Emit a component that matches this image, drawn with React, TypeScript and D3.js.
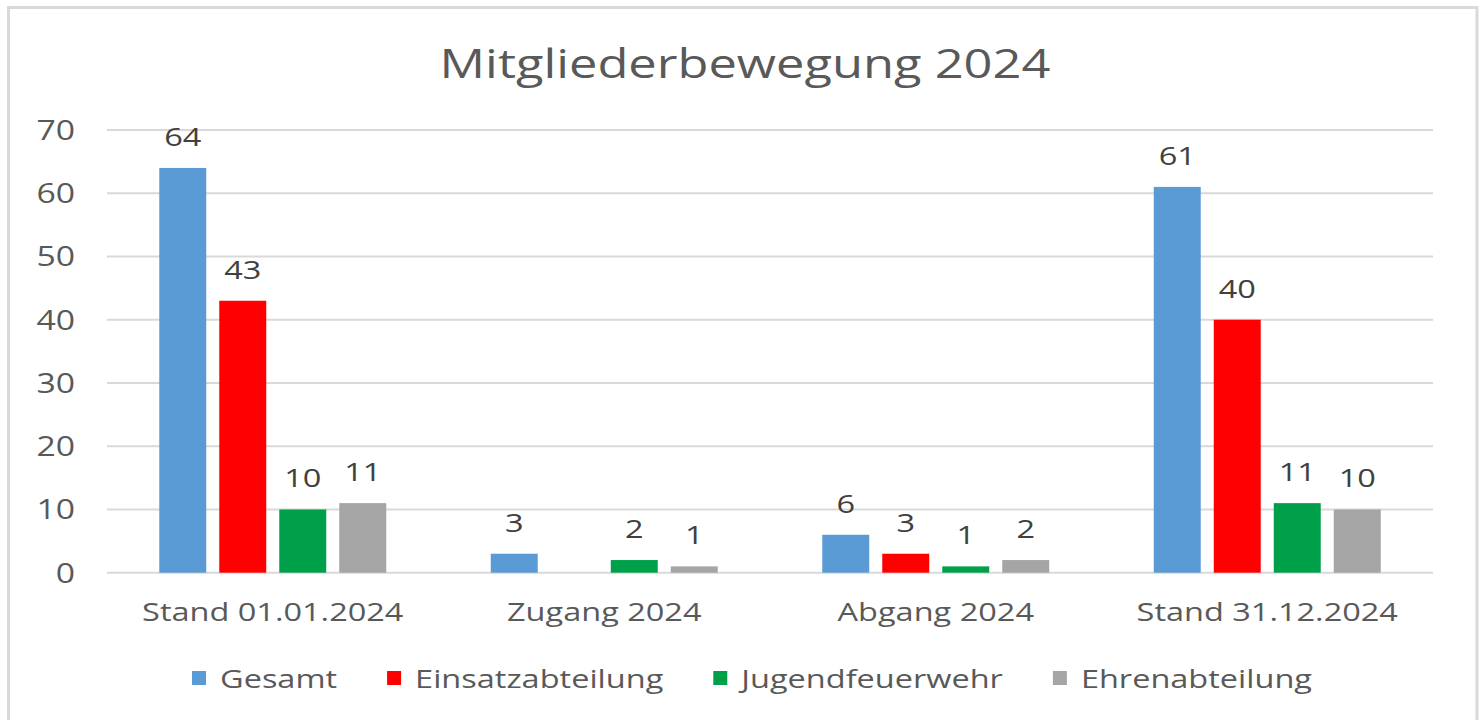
import React, { useEffect, useRef } from 'react';
import * as d3 from 'd3';

const categories = ['Stand 01.01.2024', 'Zugang 2024', 'Abgang 2024', 'Stand 31.12.2024'];
const seriesNames = ['Gesamt', 'Einsatzabteilung', 'Jugendfeuerwehr', 'Ehrenabteilung'];
const gesamt: (number | null)[] = [64, 3, 6, 61];
const einsatzabteilung: (number | null)[] = [43, null, 3, 40];
const jugendfeuerwehr: (number | null)[] = [10, 2, 1, 11];
const ehrenabteilung: (number | null)[] = [11, 1, 2, 10];
const yTicks = [0, 10, 20, 30, 40, 50, 60, 70];
const colors = ['#5b9bd5', '#ff0000', '#00a04b', '#a5a5a5'];
const title = 'Mitgliederbewegung 2024';

const W = 1483;
const H = 720;
const FONT = '"Open Sans", sans-serif';
const SX = 1.25;

export default function App() {
  const ref = useRef<SVGSVGElement>(null);

  useEffect(() => {
    const svg = d3.select(ref.current);
    svg.selectAll('*').remove();

    const seriesValues = [gesamt, einsatzabteilung, jugendfeuerwehr, ehrenabteilung];
    const left = 107, right = 1433, top = 130, bottom = 572.7;

    // border
    svg.append('rect')
      .attr('x', 8.5).attr('y', 7.5).attr('width', 1468.5).attr('height', 730)
      .attr('fill', '#fff').attr('stroke', '#d9d9d9').attr('stroke-width', 3);

    const x0 = d3.scaleBand<string>().domain(categories).range([left, right]).paddingInner(0).paddingOuter(0);
    const x1 = d3.scaleBand<string>().domain(seriesNames).range([0, x0.bandwidth()]).paddingInner(0.217).paddingOuter(0.871);
    const y = d3.scaleLinear().domain([0, 70]).range([bottom, top]);

    const stretchedText = (g: any, x: number, yy: number, txt: string, size: number, fill: string, anchor: string) =>
      g.append('text')
        .attr('transform', `translate(${x},${yy}) scale(${SX},1)`)
        .attr('text-anchor', anchor)
        .attr('font-family', FONT)
        .attr('font-size', size)
        .attr('fill', fill)
        .text(txt);

    // title
    stretchedText(svg, 745, 78, title, 40.5, '#595959', 'middle');

    // gridlines
    const grid = svg.append('g');
    yTicks.forEach((t) => {
      grid.append('line')
        .attr('x1', left).attr('x2', right)
        .attr('y1', y(t)).attr('y2', y(t))
        .attr('stroke', '#d9d9d9').attr('stroke-width', 2);
      stretchedText(grid, 75, y(t) + 10, String(t), 27, '#595959', 'end');
    });

    // bars
    const bars = svg.append('g');
    categories.forEach((c, ci) => {
      seriesNames.forEach((s, si) => {
        const v = seriesValues[si][ci];
        if (v === null || v === undefined) return;
        const bx = (x0(c) as number) + (x1(s) as number);
        bars.append('rect')
          .attr('x', bx).attr('y', y(v))
          .attr('width', x1.bandwidth()).attr('height', y(0) - y(v))
          .attr('fill', colors[si]);
        stretchedText(bars, bx + x1.bandwidth() / 2, y(v) - 22, String(v), 26, '#404040', 'middle');
      });
      stretchedText(svg, (x0(c) as number) + x0.bandwidth() / 2, 620.7, c, 26, '#595959', 'middle');
    });

    // legend
    const lg = svg.append('g');
    const items: { g: any; w: number }[] = [];
    seriesNames.forEach((s, i) => {
      const g = lg.append('g');
      g.append('rect').attr('x', 0).attr('y', 671).attr('width', 14).attr('height', 14).attr('fill', colors[i]);
      const t = stretchedText(g, 28, 687.5, s, 26, '#595959', 'start');
      const w = 28 + (t.node() as SVGTextElement).getComputedTextLength() * SX;
      items.push({ g, w });
    });
    const gap = 50;
    const total = items.reduce((a, b) => a + b.w, 0) + gap * (items.length - 1);
    let cx = 752 - total / 2;
    items.forEach((it) => {
      it.g.attr('transform', `translate(${cx},0)`);
      cx += it.w + gap;
    });
  }, []);

  return (
    <svg ref={ref} width={W} height={H} style={{ position: 'absolute', left: 0, top: 0, display: 'block', background: '#fff' }} />
  );
}
